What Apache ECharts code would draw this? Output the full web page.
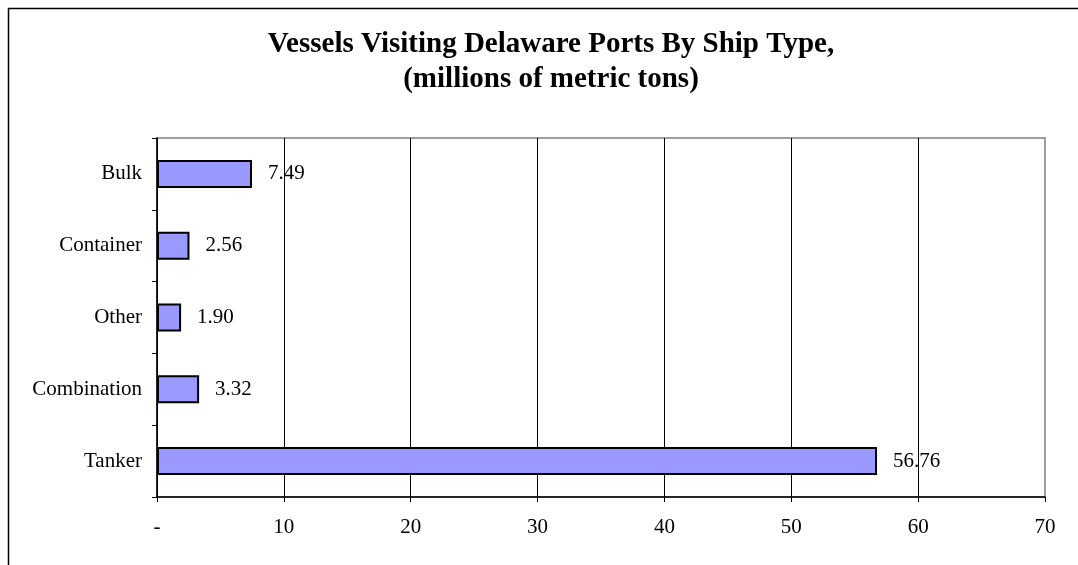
<!DOCTYPE html>
<html>
<head>
<meta charset="utf-8">
<script src="https://cdn.jsdelivr.net/npm/echarts@6/dist/echarts.min.js"></script>
<style>
html,body{margin:0;padding:0;background:#fff;}
#main{width:1078px;height:565px;}
</style>
</head>
<body>
<div id="main"></div>
<script>
var categories = ['Bulk', 'Container', 'Other', 'Combination', 'Tanker'];
var values = [7.49, 2.56, 1.90, 3.32, 56.76];
var titleText = 'Vessels Visiting Delaware Ports By Ship Type,\n(millions of metric tons)';
var xMin = 0, xMax = 70, xStep = 10;

var serif = '"Liberation Serif", "Times New Roman", serif';
var chart = echarts.init(document.getElementById('main'), null, {renderer: 'canvas'});
chart.setOption({
  backgroundColor: '#fff',
  animation: false,
  title: {
    text: titleText,
    left: 546,
    textAlign: 'center',
    top: 22,
    textStyle: {fontFamily: serif, fontSize: 29, fontWeight: 'bold', color: '#000', lineHeight: 35}
  },
  graphic: [{
    type: 'rect',
    shape: {x: 8.5, y: 8.5, width: 1200, height: 700},
    style: {fill: 'none', stroke: '#000', lineWidth: 1.5},
    silent: true
  }],
  grid: {left: 157, right: 33, top: 138, bottom: 68, show: true, borderColor: '#808080', borderWidth: 1.5, backgroundColor: 'transparent'},
  xAxis: {
    type: 'value', min: xMin, max: xMax, interval: xStep,
    axisLine: {show: true, lineStyle: {color: '#000', width: 1.5}},
    axisTick: {show: true, length: 5, lineStyle: {color: '#000'}},
    axisLabel: {fontFamily: serif, fontSize: 21, color: '#000', margin: 20,
      formatter: function (v) { return v === 0 ? '-' : String(v); }},
    splitLine: {show: true, showMaxLine: false, lineStyle: {color: '#000', width: 1}}
  },
  yAxis: {
    type: 'category', data: categories, inverse: true,
    axisLine: {show: true, lineStyle: {color: '#000', width: 1.5}},
    axisTick: {show: true, length: 5, alignWithLabel: false, lineStyle: {color: '#000'}},
    axisLabel: {fontFamily: serif, fontSize: 21, color: '#000', margin: 15},
    splitLine: {show: false}
  },
  series: [{
    type: 'bar',
    data: values,
    barWidth: 28,
    itemStyle: {color: '#9999FF', borderColor: '#000', borderWidth: 2},
    label: {show: true, position: 'right', distance: 16, fontFamily: serif, fontSize: 21, color: '#000',
      formatter: function (p) { return p.value.toFixed(2); }}
  }]
});
</script>
</body>
</html>
